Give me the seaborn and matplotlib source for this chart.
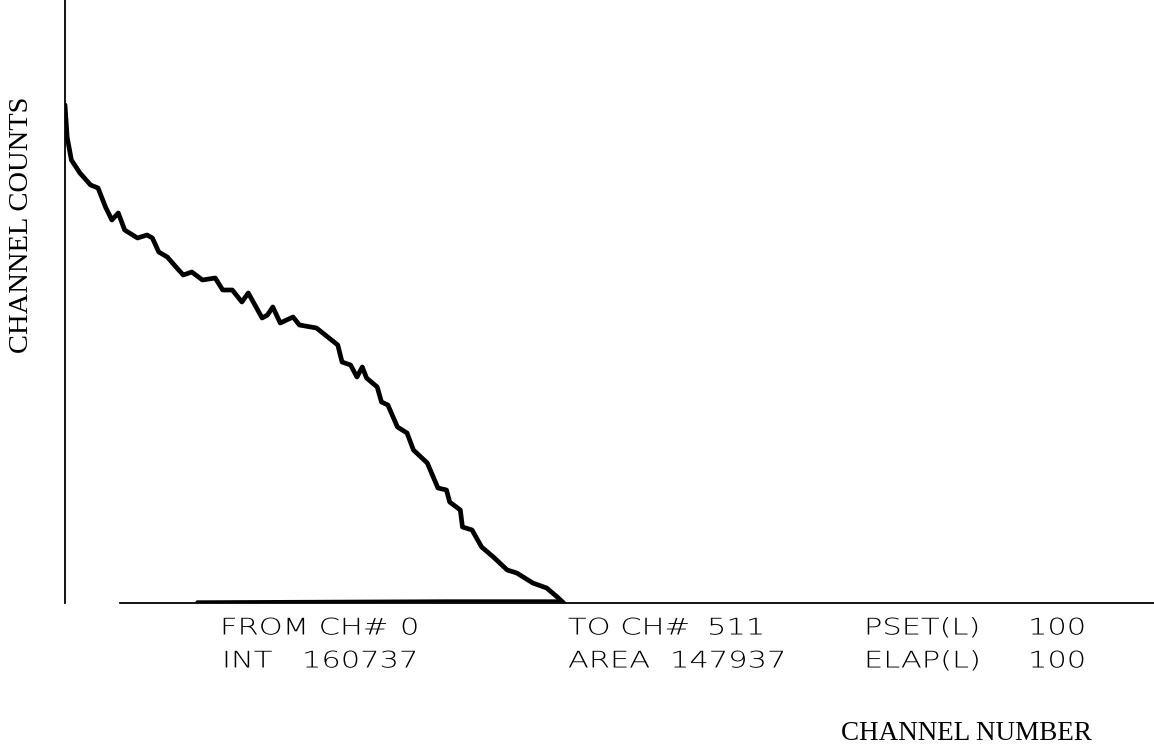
import numpy as np
import pandas as pd
import matplotlib
matplotlib.use("Agg")
import matplotlib.pyplot as plt
from matplotlib.patheffects import AbstractPathEffect
from matplotlib.transforms import Affine2D
import seaborn as sns

# ---- data ----
channels = [0, 1, 3, 7, 12, 15.5, 19, 22, 25, 28, 34, 38.5, 41, 44, 48, 52.5, 55.5, 59.5,
            64.5, 70.5, 74, 78.5, 83, 86, 92.5, 95, 97.5, 101, 107, 110, 118, 128, 130,
            134, 137, 139.5, 141.5, 146.5, 148.5, 151.5, 156, 160.5, 163.5, 170, 175, 179,
            180.5, 185.5, 186.5, 191, 195.5, 201, 207.5, 212, 219.5, 226, 231, 234]
counts = [996, 932, 886, 860, 836, 830, 792, 766, 780, 746, 730, 736, 730, 702, 692, 670,
          656, 662, 646, 650, 626, 626, 602, 620, 570, 576, 592, 560, 572, 556, 550, 516,
          482, 476, 452, 472, 450, 432, 402, 396, 352, 340, 306, 280, 230, 226, 202, 186,
          152, 146, 112, 92, 66, 60, 40, 30, 12, 0]
floor_channels = [62, 120, 180, 232]
floor_counts = [2, 3, 4, 4]

y_label = "CHANNEL COUNTS"
x_label = "CHANNEL NUMBER"
info_labels = [["FROM CH#", "TO CH#", "PSET(L)"], ["INT", "AREA", "ELAP(L)"]]
info_values = [["0", "511", "100"], ["160737", "147937", "100"]]


class Stretch(AbstractPathEffect):
    """Widen glyphs horizontally (plotter-style lettering)."""
    def __init__(self, sx):
        super().__init__()
        self.sx = sx

    def draw_path(self, renderer, gc, tpath, affine, rgbFace=None):
        renderer.draw_path(gc, tpath, Affine2D().scale(self.sx, 1) + affine, rgbFace)


W, H = 1154, 751
sns.set_theme(style="white")
plt.rcParams["font.family"] = ["DejaVu Sans"]
fig = plt.figure(figsize=(W / 100, H / 100), dpi=100)
ax = fig.add_axes([65 / W, 1 - 603 / H, 1 - 65 / W, 603 / H])

df = pd.DataFrame({"channel": channels, "counts": counts})
sns.lineplot(data=df, x="channel", y="counts", ax=ax, color="black", linewidth=3.4,
             estimator=None, sort=False)
fl = pd.DataFrame({"channel": floor_channels, "counts": floor_counts})
sns.lineplot(data=fl, x="channel", y="counts", ax=ax, color="black", linewidth=2.4,
             estimator=None, sort=False)

ax.set_xlim(0, 511)
ax.set_ylim(0, 1206)
ax.set_xticks([])
ax.set_yticks([])
ax.set_xlabel("")
ax.set_ylabel("")
for s in ["top", "right"]:
    ax.spines[s].set_visible(False)
for s in ["left", "bottom"]:
    ax.spines[s].set_color("black")
    ax.spines[s].set_linewidth(1.3)
ax.spines["bottom"].set_bounds(26, 511)
ax.patch.set_alpha(0)


def fx(px):
    return px / W


def fy(py):
    return 1 - py / H


serif = ["Liberation Serif", "DejaVu Serif"]
fig.text(fx(22), fy(225), y_label, rotation=90, ha="center", va="center",
         fontsize=20.5, family=serif, color="black")
fig.text(fx(966), fy(733), x_label, ha="center", va="center",
         fontsize=19.5, family=serif, color="black")

label_x = [[220, 568, 864], [222, 568, 864]]
value_x = [[400, 707, 1028], [302, 670, 1028]]
row_y = [628, 661]
st = [Stretch(1.33)]
for r in range(2):
    for c in range(3):
        fig.text(fx(label_x[r][c]), fy(row_y[r]), info_labels[r][c], ha="left", va="center",
                 fontsize=16.5, color="black", fontweight="light", path_effects=st)
        fig.text(fx(value_x[r][c]), fy(row_y[r]), info_values[r][c], ha="left", va="center",
                 fontsize=16.5, color="black", fontweight="light", path_effects=st)

fig.savefig("out.png", dpi=100)
